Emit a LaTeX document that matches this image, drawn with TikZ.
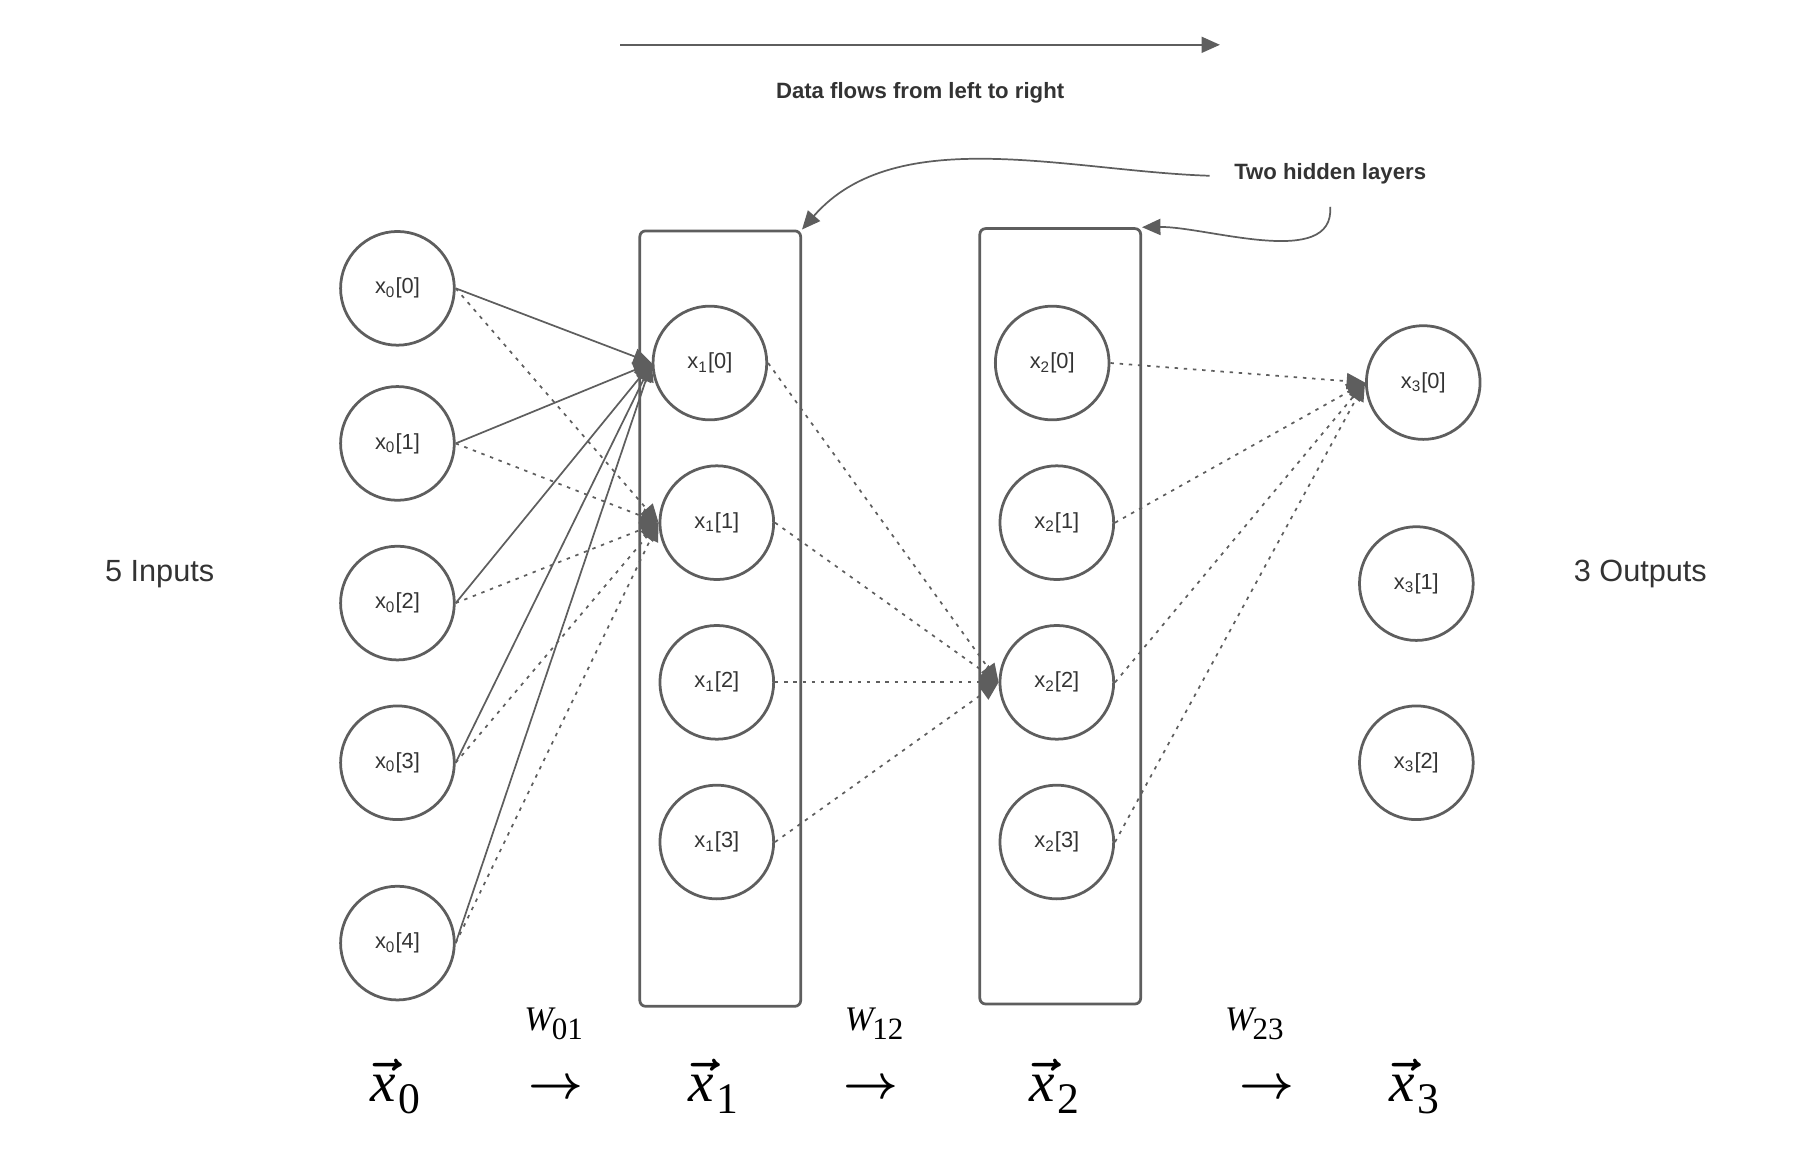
\documentclass[tikz,border=0pt]{standalone}
\usepackage{fontspec}
\setmainfont{Liberation Sans}
\newfontfamily\timesf{Liberation Serif}
\usetikzlibrary{arrows.meta}
\definecolor{ln}{HTML}{5E5E5E}
\definecolor{tx}{HTML}{333333}
\newcommand\vx[1]{{\boldmath\ensuremath{\vec{\hbox{\timesf\itshape x}}}}\kern1pt\raisebox{-5pt}{\timesf\fontsize{19}{22}\selectfont #1}}
\newcommand\wm[1]{{\timesf\itshape W}\kern-0.5pt\raisebox{-4pt}{\timesf\fontsize{13.5}{16}\selectfont #1}}
\newcommand\rarr{{\fontsize{21}{24}\selectfont\boldmath$\rightarrow$}}
\begin{document}
\begin{tikzpicture}[x=0.5pt,y=-0.5pt,
  neuron/.style={circle, draw=ln, line width=1.2pt, minimum size=49.5pt, inner sep=0pt, text=tx, font=\fontsize{9.5}{11}\selectfont},
  layerbox/.style={draw=ln, line width=1.2pt, rounded corners=2.5pt, minimum width=70pt, minimum height=337.5pt, inner sep=0pt},
  conn/.style={draw=ln, line width=0.75pt, -{Triangle[length=8pt,width=7pt]}},
  dconn/.style={conn, dash pattern=on 1.5pt off 2.5pt},
  bigtext/.style={text=tx, font=\fontsize{13.35}{16}\selectfont},
  boldtext/.style={text=tx, font=\bfseries\fontsize{9.65}{12}\selectfont, inner sep=0pt},
  mathbig/.style={text=black, font=\fontsize{25}{30}\selectfont, anchor=base, inner sep=0pt},
  mathw/.style={text=black, font=\fontsize{15}{18}\selectfont, anchor=base, inner sep=0pt}
]
\useasboundingbox (0,0) rectangle (1567,1009);

% layer boxes
\node[layerbox] (L1) at (627,538.5) {};
\node[layerbox] (L2) at (923,536.5) {};

% input layer
\node[neuron] (a0) at (346,251) {x\textsubscript{0}[0]};
\node[neuron] (a1) at (346,386) {x\textsubscript{0}[1]};
\node[neuron] (a2) at (346,525) {x\textsubscript{0}[2]};
\node[neuron] (a3) at (346,664) {x\textsubscript{0}[3]};
\node[neuron] (a4) at (346,821) {x\textsubscript{0}[4]};

% hidden layer 1
\node[neuron] (b0) at (618,316) {x\textsubscript{1}[0]};
\node[neuron] (b1) at (624,455) {x\textsubscript{1}[1]};
\node[neuron] (b2) at (624,594) {x\textsubscript{1}[2]};
\node[neuron] (b3) at (624,733) {x\textsubscript{1}[3]};

% hidden layer 2
\node[neuron] (c0) at (916,316) {x\textsubscript{2}[0]};
\node[neuron] (c1) at (920,455) {x\textsubscript{2}[1]};
\node[neuron] (c2) at (920,594) {x\textsubscript{2}[2]};
\node[neuron] (c3) at (920,733) {x\textsubscript{2}[3]};

% output layer
\node[neuron] (d0) at (1239,333) {x\textsubscript{3}[0]};
\node[neuron] (d1) at (1233,508) {x\textsubscript{3}[1]};
\node[neuron] (d2) at (1233,664) {x\textsubscript{3}[2]};

% side labels
\node[bigtext] (inl) at (139,500) {5 Inputs};
\node[bigtext] (outl) at (1428,500) {3 Outputs};

% top flow arrow
\coordinate (t1) at (540,39);
\coordinate (t2) at (1062,39);
\draw[conn, line width=0.65pt] (t1) -- (t2);
\node[boldtext] (flow) at (801,81) {Data flows from left to right};

% hidden-layer annotation
\node[boldtext] (hid) at (1158,151) {Two hidden layers};
\coordinate (s1) at (1053,153);
\coordinate (s2) at (1158,180);
\draw[conn] (s1) .. controls (930,149) and (780,106) .. (L1.north east);
\draw[conn] (s2) .. controls (1162,235) and (1050,197) .. (L2.north east);

% connections input -> hidden 1
\foreach \i in {0,...,4}{
  \draw[conn] (a\i.east) -- (b0.west);
  \draw[dconn] (a\i.east) -- (b1.west);
}
% hidden 1 -> hidden 2
\foreach \i in {0,...,3}{
  \draw[dconn] (b\i.east) -- (c2.west);
}
% hidden 2 -> output
\foreach \i in {0,...,3}{
  \draw[dconn] (c\i.east) -- (d0.west);
}

% bottom formula
\node[mathw] (w01) at (482,897) {\wm{01}};
\node[mathw] (w12) at (761,897) {\wm{12}};
\node[mathw] (w23) at (1092,897) {\wm{23}};
\node[mathbig] (v0) at (344,959) {\vx{0}};
\node[mathbig] (r1) at (484,956) {\rarr};
\node[mathbig] (v1) at (621,959) {\vx{1}};
\node[mathbig] (r2) at (758,956) {\rarr};
\node[mathbig] (v2) at (918,959) {\vx{2}};
\node[mathbig] (r3) at (1103,956) {\rarr};
\node[mathbig] (v3) at (1231,959) {\vx{3}};
\end{tikzpicture}
\end{document}
